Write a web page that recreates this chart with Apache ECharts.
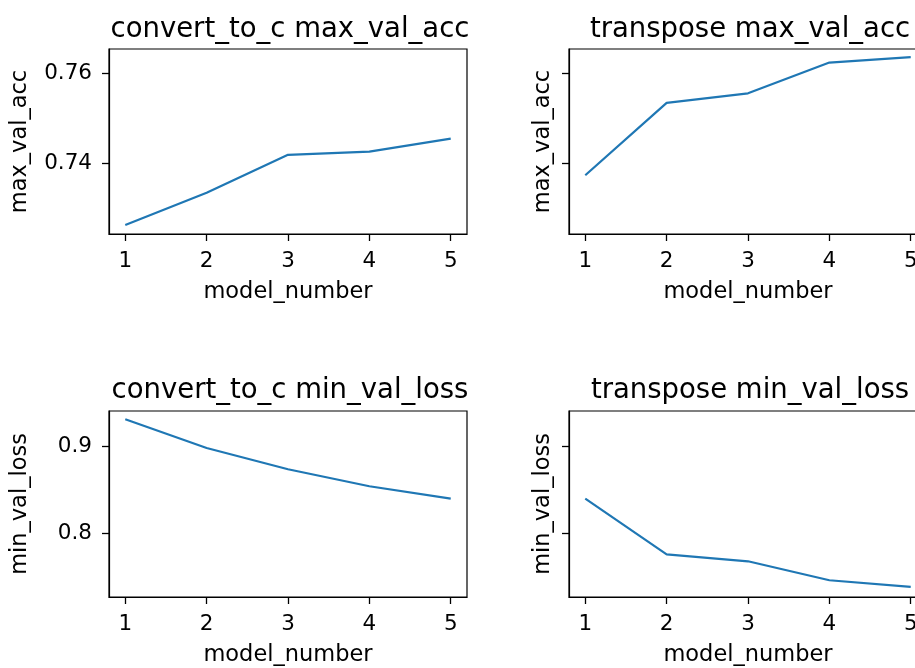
<!DOCTYPE html>
<html>
<head>
<meta charset="utf-8">
<script src="https://cdn.jsdelivr.net/npm/echarts@6/dist/echarts.min.js"></script>
<style>
html,body{margin:0;padding:0;background:#fff;}
#chart{width:915px;height:668px;}
</style>
</head>
<body>
<div id="chart"></div>
<script>
const modelNumbers = [1, 2, 3, 4, 5];
const convertMaxValAcc = [0.7264, 0.7335, 0.7419, 0.7426, 0.7455];
const transposeMaxValAcc = [0.7374, 0.7534, 0.7555, 0.7623, 0.7635];
const convertMinValLoss = [0.9309, 0.8980, 0.8737, 0.8542, 0.8401];
const transposeMinValLoss = [0.8401, 0.7763, 0.7683, 0.7466, 0.7390];
const accTicks = [0.74, 0.76];
const lossTicks = [0.8, 0.9];
const titles = ['convert_to_c max_val_acc', 'transpose max_val_acc', 'convert_to_c min_val_loss', 'transpose min_val_loss'];
const yNames = ['max_val_acc', 'max_val_acc', 'min_val_loss', 'min_val_loss'];
const xName = 'model_number';

const FONT = 'DejaVu Sans';
const grids = [
  {left: 109, top: 49, width: 358, height: 185},
  {left: 569, top: 49, width: 358, height: 185},
  {left: 109, top: 411, width: 358, height: 186},
  {left: 569, top: 411, width: 358, height: 186}
];
const seriesData = [convertMaxValAcc, transposeMaxValAcc, convertMinValLoss, transposeMinValLoss];
const yRanges = [[0.7244, 0.7653], [0.7244, 0.7653], [0.7274, 0.9404], [0.7274, 0.9404]];
const yTickSets = [accTicks, accTicks, lossTicks, lossTicks];

const option = {
  animation: false,
  backgroundColor: '#fff',
  title: titles.map((t, i) => ({
    text: t,
    left: grids[i].left + grids[i].width / 2 - 3,
    top: i < 2 ? 11 : 372,
    textAlign: 'center',
    textStyle: {fontFamily: FONT, fontSize: 27.5, fontWeight: 'normal', color: '#000'}
  })),
  grid: grids.map(g => Object.assign({show: true, borderColor: '#000', borderWidth: 1.2, backgroundColor: 'transparent', outerBoundsMode: 'none', containLabel: false}, g)),
  xAxis: grids.map((g, i) => ({
    type: 'value',
    gridIndex: i,
    min: 0.8,
    max: 5.2,
    name: xName,
    nameLocation: 'middle',
    nameGap: 47,
    nameTextStyle: {fontFamily: FONT, fontSize: 22.5, color: '#000'},
    axisLine: {show: true, onZero: false, lineStyle: {color: '#000', width: 1.2}},
    axisTick: {show: true, length: 7, lineStyle: {color: '#000', width: 1.3}, customValues: modelNumbers},
    axisLabel: {show: true, margin: 16, fontFamily: FONT, fontSize: 21.5, color: '#000', customValues: modelNumbers, formatter: v => String(Math.round(v))},
    splitLine: {show: false}
  })),
  yAxis: grids.map((g, i) => ({
    type: 'value',
    gridIndex: i,
    min: yRanges[i][0],
    max: yRanges[i][1],
    name: yNames[i],
    nameLocation: 'middle',
    nameRotate: 90,
    nameGap: i % 2 === 0 ? 77 : 14,
    nameTextStyle: {fontFamily: FONT, fontSize: 22.5, color: '#000'},
    axisLine: {show: true, onZero: false, lineStyle: {color: '#000', width: 1.2}},
    axisTick: {show: true, length: 7, lineStyle: {color: '#000', width: 1.3}, customValues: yTickSets[i]},
    axisLabel: {show: i % 2 === 0, margin: 17, fontFamily: FONT, fontSize: 21.5, color: '#000', customValues: yTickSets[i],
      formatter: v => (yTickSets[i] === accTicks ? v.toFixed(2) : v.toFixed(1))},
    splitLine: {show: false}
  })),
  series: seriesData.map((arr, i) => ({
    type: 'line',
    xAxisIndex: i,
    yAxisIndex: i,
    data: modelNumbers.map((m, k) => [m, arr[k]]),
    showSymbol: false,
    symbol: 'none',
    lineStyle: {color: '#1f77b4', width: 2.2},
    itemStyle: {color: '#1f77b4'}
  }))
};
const chart = echarts.init(document.getElementById('chart'));
chart.setOption(option);
</script>
</body>
</html>
